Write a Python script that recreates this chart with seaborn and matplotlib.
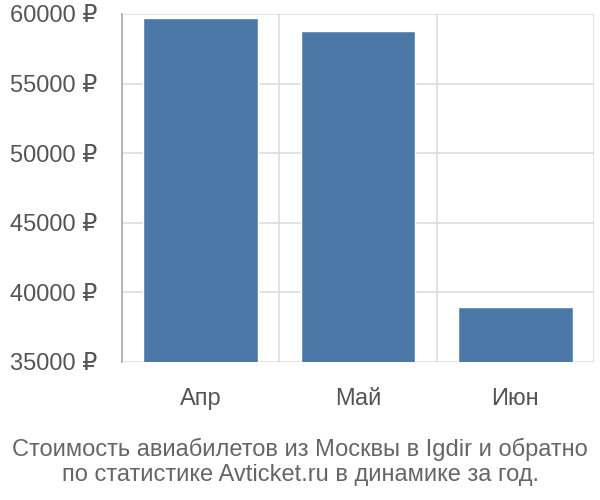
import numpy as np
import pandas as pd
import seaborn as sns
import matplotlib.pyplot as plt
from matplotlib.ticker import FixedLocator

# данные
months = ['Апр', 'Май', 'Июн']
prices = [59700, 58750, 38950]
yticks = [35000, 40000, 45000, 50000, 55000, 60000]
title = 'Стоимость авиабилетов из Москвы в Igdir и обратно\nпо статистике Avticket.ru в динамике за год.'

sns.set_theme(style='white')
plt.rcParams['font.family'] = ['Liberation Sans', 'DejaVu Sans']

df = pd.DataFrame({'month': months, 'price': prices})

fig = plt.figure(figsize=(6, 5), dpi=100)
ax = fig.add_axes([122 / 600, 1 - 362 / 500, (594 - 122) / 600, (362 - 14) / 500])

sns.barplot(data=df, x='month', y='price', color='#4c78a8', saturation=1,
            width=0.73, ax=ax, zorder=3)

ax.set_xlim(-0.5, 2.5)
ax.set_ylim(35000, 60000)
ax.set_yticks(yticks)
ax.set_yticklabels([f'{v} ₽' for v in yticks])
ax.set_xlabel('')
ax.set_ylabel('')

# сетка
ax.xaxis.set_minor_locator(FixedLocator([-0.5, 0.5, 1.5, 2.5]))
ax.grid(axis='y', which='major', color='#dddddd', lw=1.2, zorder=0)
ax.grid(axis='x', which='minor', color='#dddddd', lw=1.2, zorder=0)
ax.tick_params(axis='y', length=16, color='#dddddd', width=1.2, pad=2,
               labelsize=17, labelcolor='#555555')
ax.tick_params(axis='x', which='major', length=0, pad=19,
               labelsize=17, labelcolor='#555555')
ax.tick_params(axis='x', which='minor', length=14, color='#dddddd', width=1.2)
ax.xaxis.get_minor_ticks()[0].tick1line.set_color('#aaaaaa')

for s in ['top', 'right', 'bottom']:
    ax.spines[s].set_visible(False)
ax.spines['left'].set_color('#aaaaaa')
ax.spines['left'].set_linewidth(1.2)

fig.text(0.5, 0.028, title, ha='center', va='bottom', fontsize=17,
         color='#666666', linespacing=1.15)

plt.savefig('out.png', dpi=100)
